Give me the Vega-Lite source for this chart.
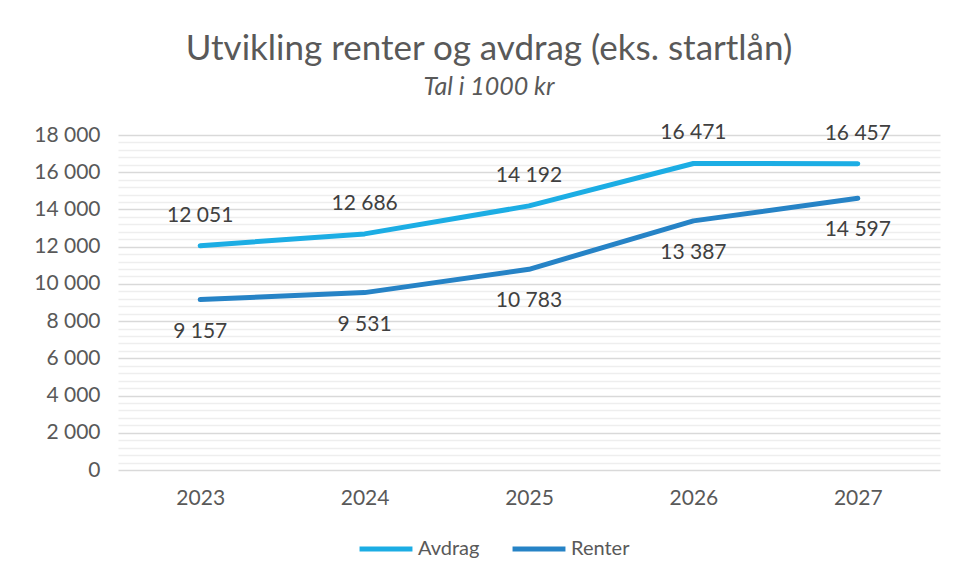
{
  "$schema": "https://vega.github.io/schema/vega-lite/v6.json",
  "width": 822,
  "height": 335,
  "autosize": "none",
  "padding": {"left": 118, "top": 135, "right": 20, "bottom": 110},
  "background": "white",
  "config": {
    "font": "Lato",
    "view": {"stroke": null},
    "axis": {"labelColor": "#595959", "labelFont": "Lato"},
    "locale": {
      "number": {"decimal": ",", "thousands": " ", "grouping": [3], "currency": ["", " kr"]}
    }
  },
  "title": {
    "text": "Utvikling renter og avdrag (eks. startlån)",
    "subtitle": "Tal i 1000 kr",
    "anchor": "middle",
    "dx": -40,
    "offset": 22,
    "fontSize": 35,
    "fontWeight": "normal",
    "color": "#595959",
    "subtitleFontSize": 25,
    "subtitleFontStyle": "italic",
    "subtitleColor": "#595959",
    "subtitlePadding": 8
  },
  "data": {
    "values": [
      {"year": "2023", "serie": "Avdrag", "value": 12051},
      {"year": "2024", "serie": "Avdrag", "value": 12686},
      {"year": "2025", "serie": "Avdrag", "value": 14192},
      {"year": "2026", "serie": "Avdrag", "value": 16471},
      {"year": "2027", "serie": "Avdrag", "value": 16457},
      {"year": "2023", "serie": "Renter", "value": 9157},
      {"year": "2024", "serie": "Renter", "value": 9531},
      {"year": "2025", "serie": "Renter", "value": 10783},
      {"year": "2026", "serie": "Renter", "value": 13387},
      {"year": "2027", "serie": "Renter", "value": 14597}
    ]
  },
  "encoding": {
    "x": {
      "field": "year",
      "type": "ordinal",
      "scale": {"type": "point", "padding": 0.5},
      "axis": {
        "title": null,
        "labelAngle": 0,
        "ticks": false,
        "domain": false,
        "labelPadding": 17,
        "labelFontSize": 21,
        "grid": false
      }
    },
    "y": {
      "field": "value",
      "type": "quantitative",
      "scale": {"domain": [0, 18000], "nice": false},
      "axis": {
        "title": null,
        "values": [0,400,800,1200,1600,2000,2400,2800,3200,3600,4000,4400,4800,5200,5600,6000,6400,6800,7200,7600,8000,8400,8800,9200,9600,10000,10400,10800,11200,11600,12000,12400,12800,13200,13600,14000,14400,14800,15200,15600,16000,16400,16800,17200,17600,18000],
        "labelExpr": "datum.value % 2000 === 0 ? format(datum.value, ',') : ''",
        "ticks": false,
        "domain": false,
        "labelPadding": 18,
        "labelFontSize": 21,
        "grid": true,
        "gridColor": {"condition": {"test": "datum.value % 2000 === 0", "value": "#d9d9d9"}, "value": "#eeeeee"},
        "gridWidth": 1.5
      }
    }
  },
  "layer": [
    {
      "mark": {"type": "line", "strokeWidth": 5, "strokeCap": "round", "strokeJoin": "round"},
      "encoding": {
        "color": {
          "field": "serie",
          "type": "nominal",
          "scale": {"domain": ["Avdrag", "Renter"], "range": ["#1CADE4", "#2683C6"]},
          "legend": {
            "title": null,
            "orient": "none",
            "direction": "horizontal",
            "legendX": 239,
            "legendY": 385,
            "symbolType": "stroke",
            "symbolSize": 2800,
            "symbolStrokeWidth": 5,
            "labelFontSize": 20,
            "labelColor": "#595959",
            "labelOffset": 3,
            "columnPadding": 22
          }
        }
      }
    },
    {
      "transform": [{"filter": "datum.serie === 'Avdrag'"}],
      "mark": {"type": "text", "dy": -30, "fontSize": 21, "color": "#404040", "baseline": "middle"},
      "encoding": {"text": {"field": "value", "type": "quantitative", "format": ","}}
    },
    {
      "transform": [{"filter": "datum.serie === 'Renter'"}],
      "mark": {"type": "text", "dy": 32, "fontSize": 21, "color": "#404040", "baseline": "middle"},
      "encoding": {"text": {"field": "value", "type": "quantitative", "format": ","}}
    }
  ]
}
